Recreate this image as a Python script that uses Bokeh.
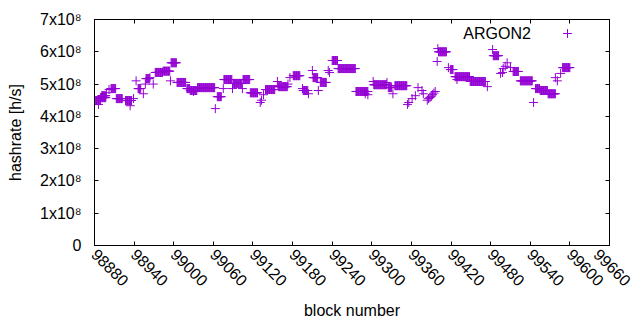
import numpy as np
from bokeh.plotting import figure
from bokeh.models import (LinearAxis, FixedTicker, Range1d, Legend, LegendItem,
                          Label, ColumnDataSource, CustomLabelingPolicy)
from bokeh.core.properties import value
from bokeh.embed import file_html
from bokeh.resources import INLINE
from math import pi

# ---- data: runs of blocks with (nearly) constant hashrate, values in units of 1e8 h/s
run_start = [98881, 98886, 98889, 98891, 98898, 98902, 98905, 98913, 98927, 98934,
             98939, 98943, 98946, 98954, 98957, 98958, 98964, 98969, 98972, 98984,
             98995, 98996, 99005, 99020, 99025, 99030, 99036, 99063, 99066, 99075,
             99076, 99089, 99090, 99104, 99105, 99116, 99131, 99133, 99136, 99139,
             99157, 99158, 99159, 99173, 99176, 99181, 99195, 99196, 99204, 99210,
             99211, 99219, 99222, 99234, 99236, 99240, 99249, 99276, 99290, 99294,
             99302, 99303, 99323, 99325, 99332, 99335, 99354, 99356, 99361, 99366,
             99370, 99376, 99378, 99384, 99386, 99388, 99390, 99392, 99394, 99396,
             99399, 99400, 99401, 99416, 99419, 99426, 99429, 99449, 99475, 99483,
             99484, 99495, 99498, 99499, 99502, 99505, 99510, 99514, 99525, 99545,
             99548, 99555, 99567, 99578, 99581, 99586, 99589]
run_len = [9, 1, 9, 7, 1, 1, 8, 10, 10, 1,
           1, 1, 5, 1, 1, 6, 1, 1, 12, 11,
           1, 9, 14, 5, 11, 1, 27, 1, 7, 1,
           13, 1, 14, 1, 11, 12, 1, 1, 1, 15,
           1, 1, 14, 1, 1, 11, 1, 8, 1, 1,
           8, 1, 10, 1, 1, 9, 27, 19, 1, 1,
           1, 20, 1, 6, 1, 19, 1, 1, 1, 1,
           1, 1, 1, 1, 1, 1, 1, 1, 1, 1,
           1, 1, 13, 1, 5, 23, 1, 24, 1, 1,
           9, 1, 1, 1, 1, 1, 1, 9, 19, 1,
           7, 12, 12, 1, 1, 1, 12]
run_val = [4.49, 4.37, 4.58, 4.64, 4.73, 4.83, 4.86, 4.55, 4.49, 4.33,
           4.55, 5.10, 4.86, 4.70, 5.00, 5.17, 5.20, 5.00, 5.36, 5.40,
           5.10, 5.66, 5.05, 4.86, 4.80, 4.77, 4.89, 4.24, 4.61, 4.86,
           5.14, 4.86, 5.02, 4.86, 5.14, 4.73, 4.43, 4.50, 4.67, 4.83,
           5.08, 4.95, 4.92, 5.00, 5.20, 5.26, 4.86, 4.80, 4.70, 5.42,
           5.20, 4.80, 5.05, 5.42, 5.36, 5.73, 5.48, 4.77, 4.70, 4.67,
           5.08, 4.98, 5.05, 4.89, 4.70, 4.95, 4.37, 4.43, 4.55, 4.64,
           4.89, 4.80, 4.70, 4.50, 4.55, 4.58, 4.62, 4.67, 4.72, 4.77,
           5.70, 6.10, 6.00, 5.51, 5.45, 5.23, 5.14, 5.08, 4.92, 6.07,
           5.88, 5.33, 5.36, 5.48, 5.55, 5.66, 5.51, 5.39, 5.10, 4.43,
           4.86, 4.80, 4.70, 5.20, 5.10, 5.33, 5.51]
SCALE = 1e8

x_ticks = [98880, 98940, 99000, 99060, 99120, 99180, 99240, 99300, 99360,
           99420, 99480, 99540, 99600, 99660]
x_tick_labels = ["98880", "98940", "99000", "99060", "99120", "99180", "99240",
                 "99300", "99360", "99420", "99480", "99540", "99600", "99660"]
y_ticks = [0, 100000000, 200000000, 300000000, 400000000, 500000000, 600000000, 700000000]
y_tick_labels = ["0", "1x10\u2078", "2x10\u2078", "3x10\u2078", "4x10\u2078",
                 "5x10\u2078", "6x10\u2078", "7x10\u2078"]
series_name = "ARGON2"

blocks = np.concatenate([np.arange(s, s + n) for s, n in zip(run_start, run_len)])
rates = np.repeat(np.array(run_val) * SCALE, run_len)
src = ColumnDataSource(dict(x=blocks, y=rates))

FONT = "Liberation Sans"
FS = "16px"
COLOR = "#9400d3"
X0, X1 = 98880, 99660

p = figure(width=632, height=322, output_backend="svg", toolbar_location=None,
           x_range=Range1d(X0, X1), y_range=Range1d(0, 7e8),
           min_border_left=94, min_border_right=23, min_border_top=19,
           min_border_bottom=77, x_axis_location=None, y_axis_location=None)
p.xgrid.visible = False
p.ygrid.visible = False
p.outline_line_color = "black"
p.outline_line_width = 1
p.background_fill_color = "white"
p.border_fill_color = "white"

def style_axis(ax, ticks, labels, show_labels):
    ax.ticker = FixedTicker(ticks=ticks)
    ax.major_label_overrides = {t: l for t, l in zip(ticks, labels)}
    ax.major_tick_in = 4
    ax.major_tick_out = 0
    ax.minor_tick_line_color = None
    ax.axis_line_color = "black"
    ax.major_tick_line_color = "black"
    ax.major_label_text_font = FONT
    ax.major_label_text_color = "black"
    ax.axis_label_text_font = FONT
    ax.axis_label_text_font_size = FS
    ax.axis_label_text_font_style = "normal"
    ax.axis_label_text_color = "black"
    if show_labels:
        ax.major_label_text_font_size = FS
    else:
        ax.major_label_text_font_size = "1px"
        ax.major_label_standoff = 0
        ax.major_label_policy = CustomLabelingPolicy(code="return []")

xb = LinearAxis(axis_label="block number")
style_axis(xb, x_ticks, x_tick_labels, True)
xb.major_label_orientation = -pi / 4
xb.major_label_standoff = 6
xb.axis_label_standoff = 8
p.add_layout(xb, "below")

yl = LinearAxis(axis_label="hashrate [h/s]")
style_axis(yl, y_ticks, y_tick_labels, True)
yl.major_label_standoff = 13
yl.axis_label_standoff = 13
p.add_layout(yl, "left")

xt = LinearAxis()
style_axis(xt, x_ticks, x_tick_labels, False)
p.add_layout(xt, "above")
yr = LinearAxis()
style_axis(yr, y_ticks, y_tick_labels, False)
p.add_layout(yr, "right")

r = p.scatter("x", "y", source=src, marker="cross", size=9,
              line_color=COLOR, line_width=1)

# legend: text on the left (label), sample glyph on the right (legend)
leg = Legend(items=[LegendItem(label=value(""), renderers=[r])],
             location=(462, 201), border_line_color=None,
             background_fill_alpha=0, padding=0, margin=0, spacing=0,
             label_standoff=0, glyph_width=22, glyph_height=22,
             label_text_font_size=FS, label_width=0)
p.add_layout(leg, "center")
p.add_layout(Label(x=99541, y=6.56e8, text=series_name, text_align="right",
                   text_baseline="middle", text_font=FONT, text_font_size=FS,
                   text_color="black"))

open("out.html", "w").write(file_html(p, INLINE))
